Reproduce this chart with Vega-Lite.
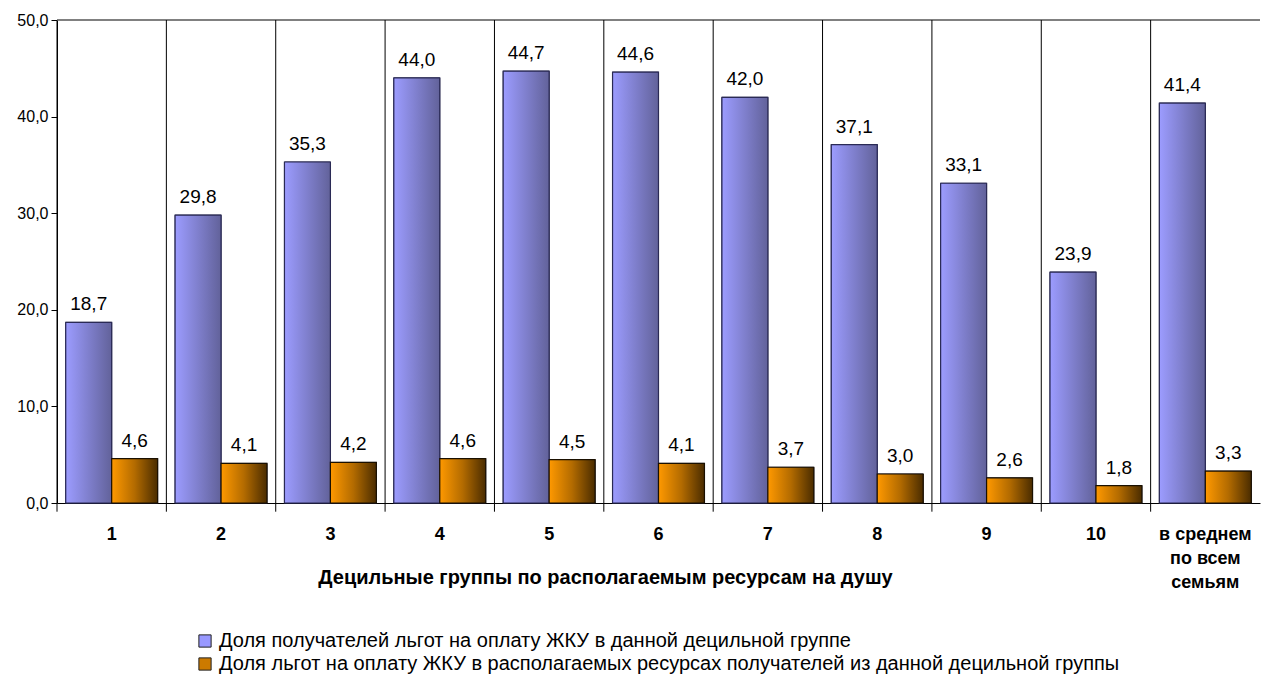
{
  "$schema": "https://vega.github.io/schema/vega-lite/v6.json",
  "autosize": {"type": "none"},
  "padding": {"left": 57, "top": 20, "right": 4, "bottom": 183},
  "width": 1203,
  "height": 483,
  "background": "white",
  "config": {
    "locale": {"number": {"decimal": ",", "thousands": " ", "grouping": [3], "currency": ["", ""]}},
    "font": "Liberation Sans",
    "view": {"stroke": null}
  },
  "data": {
    "values": [
      {"g": "1", "s": "Доля получателей льгот на оплату ЖКУ в данной децильной группе", "v": 18.7},
      {"g": "2", "s": "Доля получателей льгот на оплату ЖКУ в данной децильной группе", "v": 29.8},
      {"g": "3", "s": "Доля получателей льгот на оплату ЖКУ в данной децильной группе", "v": 35.3},
      {"g": "4", "s": "Доля получателей льгот на оплату ЖКУ в данной децильной группе", "v": 44.0},
      {"g": "5", "s": "Доля получателей льгот на оплату ЖКУ в данной децильной группе", "v": 44.7},
      {"g": "6", "s": "Доля получателей льгот на оплату ЖКУ в данной децильной группе", "v": 44.6},
      {"g": "7", "s": "Доля получателей льгот на оплату ЖКУ в данной децильной группе", "v": 42.0},
      {"g": "8", "s": "Доля получателей льгот на оплату ЖКУ в данной децильной группе", "v": 37.1},
      {"g": "9", "s": "Доля получателей льгот на оплату ЖКУ в данной децильной группе", "v": 33.1},
      {"g": "10", "s": "Доля получателей льгот на оплату ЖКУ в данной децильной группе", "v": 23.9},
      {"g": "в среднем по всем семьям", "s": "Доля получателей льгот на оплату ЖКУ в данной децильной группе", "v": 41.4},
      {"g": "1", "s": "Доля льгот на оплату ЖКУ в располагаемых ресурсах получателей из данной децильной группы", "v": 4.6},
      {"g": "2", "s": "Доля льгот на оплату ЖКУ в располагаемых ресурсах получателей из данной децильной группы", "v": 4.1},
      {"g": "3", "s": "Доля льгот на оплату ЖКУ в располагаемых ресурсах получателей из данной децильной группы", "v": 4.2},
      {"g": "4", "s": "Доля льгот на оплату ЖКУ в располагаемых ресурсах получателей из данной децильной группы", "v": 4.6},
      {"g": "5", "s": "Доля льгот на оплату ЖКУ в располагаемых ресурсах получателей из данной децильной группы", "v": 4.5},
      {"g": "6", "s": "Доля льгот на оплату ЖКУ в располагаемых ресурсах получателей из данной децильной группы", "v": 4.1},
      {"g": "7", "s": "Доля льгот на оплату ЖКУ в располагаемых ресурсах получателей из данной децильной группы", "v": 3.7},
      {"g": "8", "s": "Доля льгот на оплату ЖКУ в располагаемых ресурсах получателей из данной децильной группы", "v": 3.0},
      {"g": "9", "s": "Доля льгот на оплату ЖКУ в располагаемых ресурсах получателей из данной децильной группы", "v": 2.6},
      {"g": "10", "s": "Доля льгот на оплату ЖКУ в располагаемых ресурсах получателей из данной децильной группы", "v": 1.8},
      {"g": "в среднем по всем семьям", "s": "Доля льгот на оплату ЖКУ в располагаемых ресурсах получателей из данной децильной группы", "v": 3.3}
    ]
  },
  "encoding": {
    "x": {
      "field": "g", "type": "nominal", "sort": null,
      "scale": {"paddingInner": 0, "paddingOuter": 0},
      "axis": {
        "title": "Децильные группы по располагаемым ресурсам на душу",
        "titleFontSize": 20, "titleFontWeight": "bold", "titleColor": "#000",
        "titleX": 548, "titleY": 74, "titleBaseline": "middle", "titleAnchor": null,
        "labelAngle": 0, "labelFontSize": 18, "labelFontWeight": "bold", "labelColor": "#000",
        "labelPadding": 31, "labelLineHeight": 24, "labelBaseline": "middle",
        "labelExpr": "datum.label == 'в среднем по всем семьям' ? ['в среднем', 'по всем', 'семьям'] : datum.label",
        "ticks": false, "grid": false, "domainColor": "#000", "domainWidth": 1
      }
    },
    "xOffset": {
      "field": "s", "type": "nominal", "sort": null,
      "scale": {"paddingInner": 0, "paddingOuter": 0.19}
    },
    "y": {
      "field": "v", "type": "quantitative",
      "scale": {"domain": [0, 50]},
      "axis": {
        "title": null, "values": [0, 10, 20, 30, 40, 50], "format": ".1f",
        "labelFontSize": 16, "labelColor": "#000", "labelPadding": 3,
        "tickSize": 6, "tickColor": "#000", "domainColor": "#000", "grid": false
      }
    }
  },
  "layer": [
    {
      "mark": {"type": "rule", "color": "#808080", "strokeWidth": 2},
      "encoding": {"x": null, "xOffset": null, "y": {"datum": 50}}
    },
    {
      "transform": [{"filter": "datum.s == 'Доля получателей льгот на оплату ЖКУ в данной децильной группе'"}],
      "mark": {"type": "rule", "color": "#000", "strokeWidth": 1},
      "encoding": {
        "x": {"field": "g", "type": "nominal", "sort": null, "bandPosition": 0},
        "xOffset": null,
        "y": {"datum": 50},
        "y2": {"datum": -0.9}
      }
    },
    {
      "mark": {"type": "bar", "stroke": "#222244", "strokeWidth": 1},
      "encoding": {
        "color": {
          "field": "s", "type": "nominal", "sort": null,
          "scale": {"range": ["#9999ff", "#cc7a00"]},
          "legend": {
            "title": null, "orient": "none", "legendX": 138, "legendY": 611,
            "direction": "vertical", "symbolType": "square", "symbolSize": 150,
            "symbolStrokeColor": "#222", "symbolStrokeWidth": 1, "symbolOpacity": 1,
            "labelFontSize": 20, "labelColor": "#000", "labelLimit": 1200, "rowPadding": 3,
            "labelOffset": 4
          }
        }
      }
    },
    {
      "mark": {"type": "bar", "strokeWidth": 1.2},
      "encoding": {
        "fill": {
          "condition": {
            "test": "datum.s == 'Доля получателей льгот на оплату ЖКУ в данной децильной группе'",
            "value": {"gradient": "linear", "x1": 0, "y1": 0, "x2": 1, "y2": 0,
              "stops": [{"offset": 0, "color": "#9c9cff"}, {"offset": 1, "color": "#62629a"}]}
          },
          "value": {"gradient": "linear", "x1": 0, "y1": 0, "x2": 1, "y2": 0,
            "stops": [{"offset": 0, "color": "#ff9900"}, {"offset": 0.5, "color": "#b36b00"}, {"offset": 1, "color": "#4a2c00"}]}
        },
        "stroke": {
          "condition": {
            "test": "datum.s == 'Доля получателей льгот на оплату ЖКУ в данной децильной группе'",
            "value": "#2a2a55"
          },
          "value": "#1a1000"
        }
      }
    },
    {
      "mark": {"type": "text", "fontSize": 19, "color": "#000", "baseline": "bottom", "dy": -8},
      "encoding": {
        "text": {"field": "v", "type": "quantitative", "format": ".1f"}
      }
    }
  ]
}
